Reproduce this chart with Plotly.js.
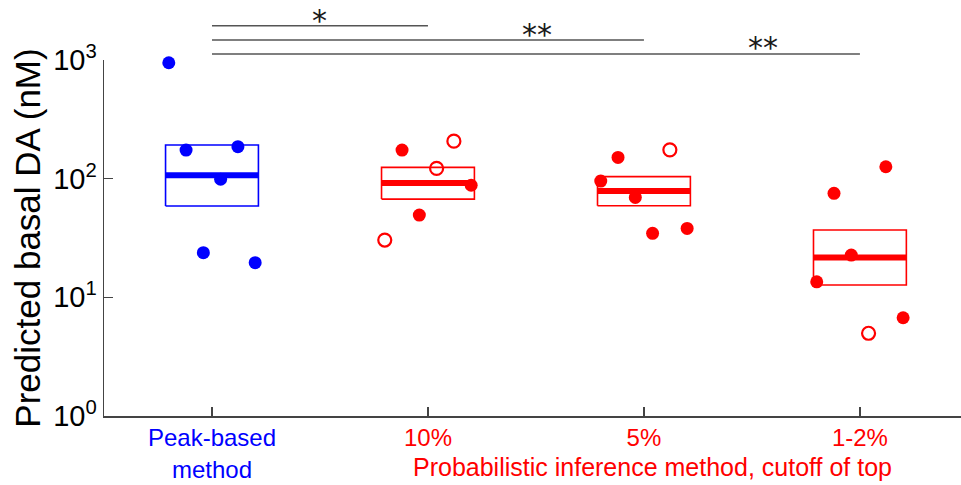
<!DOCTYPE html>
<html>
<head>
<meta charset="utf-8">
<script src="https://cdn.plot.ly/plotly-3.0.1.min.js"></script>
<style>html,body{margin:0;padding:0;background:#fff;}#chart{width:961px;height:485px;}</style>
</head>
<body>
<div id="chart"></div>
<script>
// ---- data ----
const categories = ["Peak-based<br>method", "10%", "5%", "1-2%"];
const categoryColors = ["#0000FF", "#FF0000", "#FF0000", "#FF0000"];
const catPos = [1, 2, 3, 4];

// per-group point positions (x = jittered position, y = value in nM)
const peakX   = [0.80, 0.88, 1.12, 1.04, 0.96, 1.20];
const peakY   = [948, 174, 186, 99, 23.8, 19.6];
const peakOpen = [false, false, false, false, false, false];

const p10X    = [1.88, 2.12, 2.04, 2.20, 1.96, 1.80];
const p10Y    = [174, 207, 122, 88, 49.3, 30.4];
const p10Open = [false, true, true, false, false, true];

const p5X     = [2.88, 2.80, 3.12, 2.96, 3.04, 3.20];
const p5Y     = [151, 95.5, 175, 69.5, 34.6, 38.1];
const p5Open  = [false, false, true, false, false, false];

const p12X    = [3.88, 4.12, 3.96, 3.80, 4.20, 4.04];
const p12Y    = [75.2, 126, 22.7, 13.5, 6.73, 4.98];
const p12Open = [false, false, false, false, false, true];

// box summary per group: lower edge, median, upper edge (nM)
const boxLow    = [58.8, 67.3, 59.1, 12.7];
const boxMedian = [107, 91.8, 78.6, 21.7];
const boxHigh   = [192, 124.5, 104, 36.9];

// significance comparisons (from group index to group index) and labels
const sigFrom   = [1, 1, 1];
const sigTo     = [2, 3, 4];
const sigLabels = ["*", "**", "**"];

const yTickVals = [1, 10, 100, 1000];
const yTickText = ["10<sup>0</sup>", "10<sup>1</sup>", "10<sup>2</sup>", "10<sup>3</sup>"];

// ---- build traces ----
const groups = [
  {x: peakX, y: peakY, open: peakOpen},
  {x: p10X, y: p10Y, open: p10Open},
  {x: p5X, y: p5Y, open: p5Open},
  {x: p12X, y: p12Y, open: p12Open}
];
const halfW = 0.215;
const traces = [];
groups.forEach((g, i) => {
  const col = categoryColors[i];
  const fx = [], fy = [], ox = [], oy = [];
  g.x.forEach((xv, k) => {
    if (g.open[k]) { ox.push(xv); oy.push(g.y[k]); }
    else { fx.push(xv); fy.push(g.y[k]); }
  });
  traces.push({type: "scatter", mode: "markers", x: fx, y: fy, cliponaxis: false,
    marker: {symbol: "circle", size: 13, color: col, line: {width: 0}}, hoverinfo: "y", showlegend: false});
  if (ox.length) {
    traces.push({type: "scatter", mode: "markers", x: ox, y: oy, cliponaxis: false,
      marker: {symbol: "circle-open", size: 13, color: col, line: {width: 2.2, color: col}}, hoverinfo: "y", showlegend: false});
  }
  const c = catPos[i];
  traces.push({type: "scatter", mode: "lines", cliponaxis: false,
    x: [c - halfW, c + halfW, c + halfW, c - halfW, c - halfW],
    y: [boxLow[i], boxLow[i], boxHigh[i], boxHigh[i], boxLow[i]],
    line: {color: col, width: 1.6}, hoverinfo: "skip", showlegend: false});
  traces.push({type: "scatter", mode: "lines", cliponaxis: false,
    x: [c - halfW, c + halfW], y: [boxMedian[i], boxMedian[i]],
    line: {color: col, width: 6}, hoverinfo: "skip", showlegend: false});
});

// ---- significance bars ----
const sigLineY = [1.0963, 1.0562, 1.0169];
const sigStarX = [1.5, 2.505, 3.55];
const sigStarY = [1.111, 1.073, 1.036];
const shapes = sigFrom.map((f, i) => ({
  type: "line", xref: "x", yref: "paper", x0: catPos[f - 1], x1: catPos[sigTo[i] - 1],
  y0: sigLineY[i], y1: sigLineY[i], line: {color: "#555555", width: 1.5}
}));
const annotations = sigLabels.map((s, i) => ({
  text: s, xref: "x", yref: "paper", x: sigStarX[i], y: sigStarY[i],
  xanchor: "center", yanchor: "middle", showarrow: false,
  font: {family: "DejaVu Sans, sans-serif", size: 30, color: "#1a1a1a"}
}));
annotations.push({
  text: "Probabilistic inference method, cutoff of top", xref: "paper", yref: "paper",
  x: 0.6406, y: -0.143, xanchor: "center", yanchor: "middle", showarrow: false,
  font: {family: "Liberation Sans, Arial, sans-serif", size: 25, color: "#FF0000"}
});

const tickText = categories.map((c, i) => `<span style="color:${categoryColors[i]}">${c}</span>`);

const layout = {
  width: 961, height: 485,
  margin: {l: 104, r: 0, t: 60, b: 69, autoexpand: false},
  paper_bgcolor: "#ffffff", plot_bgcolor: "#ffffff",
  font: {family: "Liberation Sans, Arial, sans-serif", color: "#000"},
  showlegend: false,
  xaxis: {
    range: [0.5, 4.468], tickvals: catPos, ticktext: tickText,
    ticks: "inside", ticklen: 9, tickwidth: 1.5, tickcolor: "#444",
    showline: true, linecolor: "#444", linewidth: 1.5,
    showgrid: false, zeroline: false,
    tickfont: {family: "Liberation Sans, Arial, sans-serif", size: 24}
  },
  yaxis: {
    type: "log", range: [0, 3], tickvals: yTickVals, ticktext: yTickText,
    ticks: "inside", ticklen: 9, tickwidth: 1.5, tickcolor: "#444",
    showline: true, linecolor: "#444", linewidth: 1.5,
    showgrid: false, zeroline: false,
    tickfont: {family: "Liberation Sans, Arial, sans-serif", size: 29, color: "#000"},
    title: {text: "Predicted basal DA (nM)", standoff: 2,
      font: {family: "Liberation Sans, Arial, sans-serif", size: 35, color: "#000"}}
  },
  shapes: shapes,
  annotations: annotations
};

Plotly.newPlot("chart", traces, layout, {displayModeBar: false, staticPlot: true});
</script>
</body>
</html>
